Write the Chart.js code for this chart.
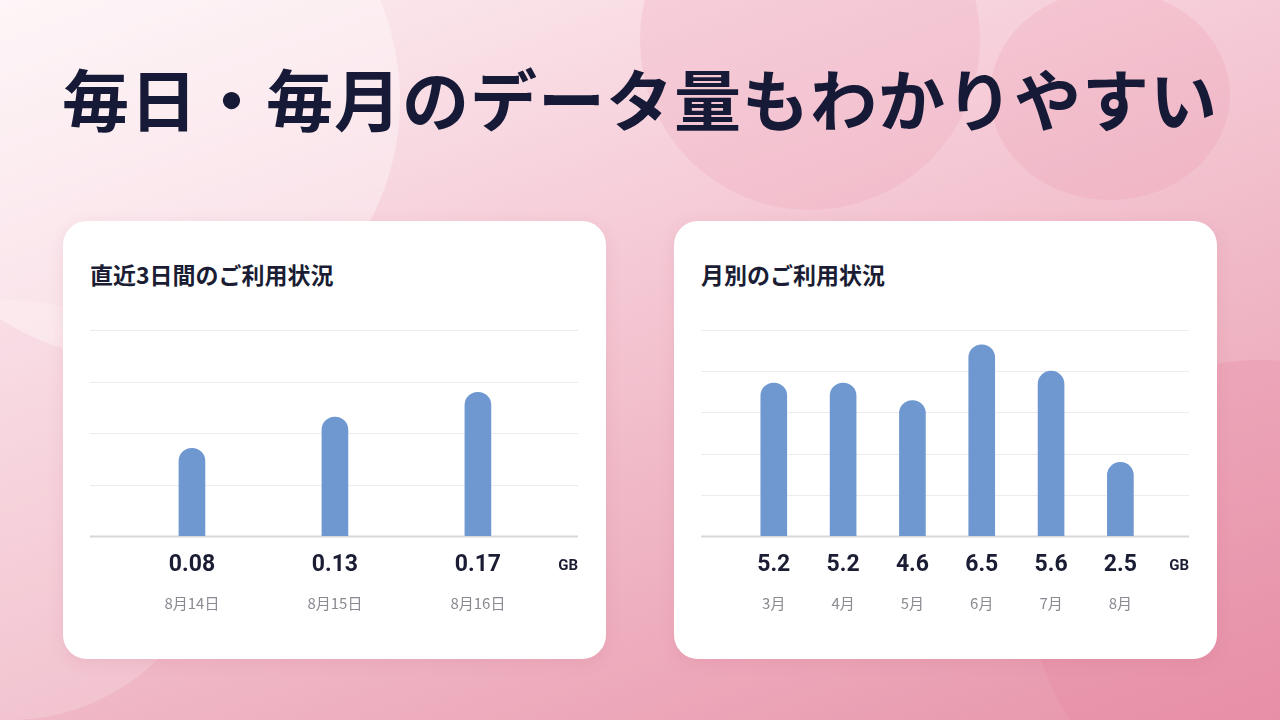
<!DOCTYPE html>
<html><head><meta charset="utf-8">
<script src="https://cdn.jsdelivr.net/npm/chart.js@4"></script>
<style>
body{margin:0;width:1280px;height:720px;overflow:hidden;font-family:"Noto Sans CJK JP",Roboto,sans-serif;position:relative;
background:linear-gradient(160deg,#fdf1f4 0%,#f6cfda 35%,#eeb0c0 70%,#e793a9 100%);}
.c{position:absolute;border-radius:50%;}
h1{position:absolute;left:0;width:1280px;top:48px;margin:0;text-align:center;font-size:67px;font-weight:700;color:#161a36;letter-spacing:1px}
.card{position:absolute;top:221px;width:543px;height:438px;background:#fff;border-radius:24px;box-shadow:0 4px 16px rgba(180,80,110,.12)}
.card h2{position:absolute;left:27px;top:36px;margin:0;font-size:23px;font-weight:700;color:#1a1d33}
.card canvas{position:absolute;left:0;top:0}
</style></head><body>
<div class="c" style="left:-120px;top:-160px;width:520px;height:520px;background:rgba(255,255,255,.35)"></div>
<div class="c" style="left:640px;top:-130px;width:340px;height:340px;background:rgba(240,170,190,.3)"></div>
<div class="c" style="left:990px;top:-10px;width:240px;height:210px;background:rgba(235,150,175,.22)"></div>
<div class="c" style="left:1030px;top:360px;width:460px;height:460px;background:rgba(230,130,160,.25)"></div>
<div class="c" style="left:-200px;top:300px;width:420px;height:420px;background:rgba(255,255,255,.18)"></div>
<h1>毎日・毎月のデータ量もわかりやすい</h1>
<div class="card" style="left:63px"><h2>直近3日間のご利用状況</h2><canvas id="a" width="543" height="438"></canvas></div>
<div class="card" style="left:674px"><h2>月別のご利用状況</h2><canvas id="b" width="543" height="438"></canvas></div>
<script>
const dailyDates=["8月14日","8月15日","8月16日"];
const dailyValues=[0.08,0.13,0.17];
const monthLabels=["3月","4月","5月","6月","7月","8月"];
const monthValues=[5.2,5.2,4.6,6.5,5.6,2.5];
const unit="GB";

function make(id,labels,values,fmt,ymin,ymax,xmin,xmax,grids){
  const plugin={id:'lab'+id,
    beforeDatasetsDraw(ch){const c=ch.ctx,a=ch.chartArea;c.save();
      for(let k=0;k<=grids;k++){const y=Math.round(a.bottom-(a.bottom-a.top)*k/grids)+0.5;
        c.strokeStyle=k==0?'#d7d7dc':'#ececf0';c.lineWidth=k==0?2:1.2;c.beginPath();c.moveTo(a.left,y);c.lineTo(a.right,y);c.stroke();}
      c.restore();},
    afterDraw(ch){const c=ch.ctx,xs=ch.scales.x,a=ch.chartArea;c.save();c.textAlign='center';c.textBaseline='middle';
      values.forEach((v,i)=>{const x=xs.getPixelForValue(i);
        c.fillStyle='#1a1d33';c.font='700 23px Roboto';c.fillText(fmt(v),x,a.bottom+29);
        c.fillStyle='#8a8a92';c.font='15px "Noto Sans CJK JP"';c.fillText(labels[i],x,a.bottom+67);});
      c.fillStyle='#1a1d33';c.font='700 15px Roboto';c.textAlign='right';c.fillText(unit,a.right,a.bottom+30);
      c.restore();}};
  new Chart(document.getElementById(id),{type:'bar',
    data:{datasets:[{data:values.map((v,i)=>({x:i,y:v})),base:ymin,backgroundColor:'#6f98d0',barThickness:26,
      borderRadius:{topLeft:13,topRight:13},borderSkipped:'bottom'}]},
    options:{responsive:false,animation:false,
      layout:{padding:{left:27,right:28,top:109,bottom:123}},
      plugins:{legend:{display:false},tooltip:{enabled:false}},
      scales:{x:{type:'linear',min:xmin,max:xmax,offset:false,display:false},
              y:{min:ymin,max:ymax,display:false}}},
    plugins:[plugin]});
}
make('a',dailyDates,dailyValues,v=>v.toFixed(2),-0.061,0.27,-0.713,2.70,4);
make('b',monthLabels,monthValues,v=>v.toFixed(1),0,7.0,-1.05,5.99,5);
</script></body></html>
